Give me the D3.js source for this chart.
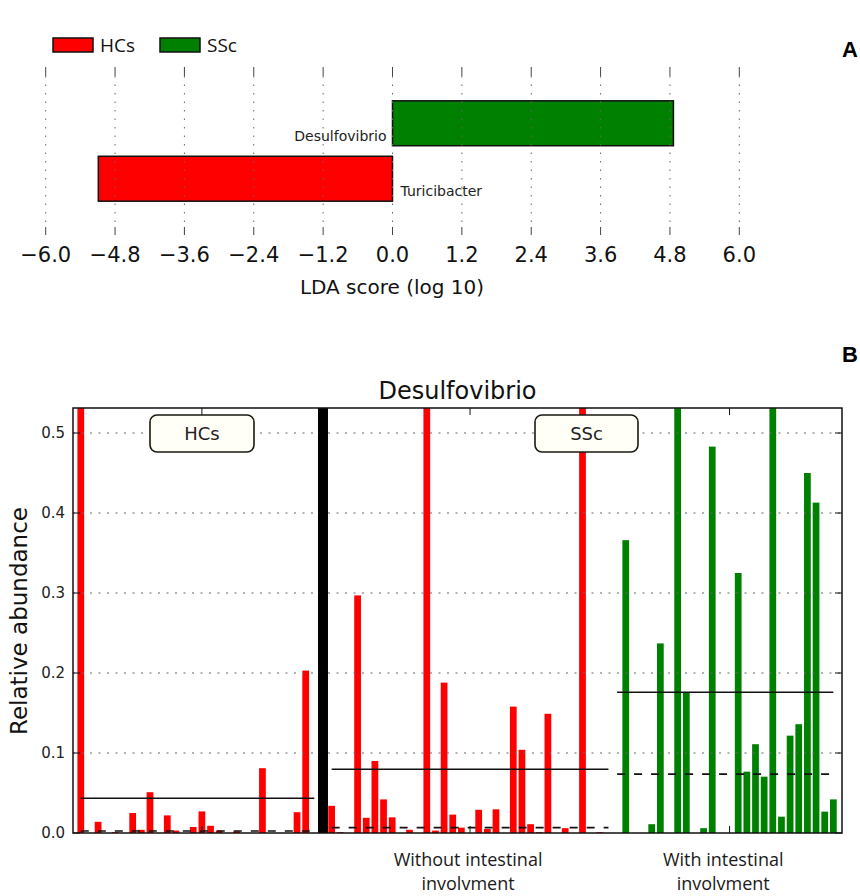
<!DOCTYPE html>
<head>
<meta charset="utf-8">
<title>LDA score and relative abundance</title>
<script src="https://d3js.org/d3.v7.min.js"></script>
<style>
  body { margin: 0; background: #fff; }
</style>
</head>
<body>
<div id="chart"></div>
<script>
    // ---- panel A data
    var ldaTaxa = ["Desulfovibrio", "Turicibacter"];
    var ldaScores = [4.86, -5.09];
    var ldaGroup = ["SSc", "HCs"];
    var ldaTicks = [-6.0, -4.8, -3.6, -2.4, -1.2, 0.0, 1.2, 2.4, 3.6, 4.8, 6.0];
    var groupNames = ["HCs", "SSc"];
    var groupColors = ["#ff0000", "#008000"];

    // ---- panel B data (relative abundance per sample)
    var hcsAbund = [0.734, 0, 0.014, 0, 0.001, 0, 0.025, 0.004, 0.051, 0, 0.022, 0.003, 0, 0.0075,
                    0.027, 0.009, 0.003, 0, 0.002, 0, 0, 0.081, 0, 0, 0, 0.026, 0.203, 0];
    var withoutAbund = [0.034, 0.001, 0, 0.297, 0.019, 0.090, 0.042, 0.0196, 0, 0.004, 0, 0.78, 0.003,
                        0.188, 0.023, 0.0067, 0, 0.029, 0.005, 0.0296, 0, 0.158, 0.104, 0.011, 0.001,
                        0.149, 0, 0.006, 0, 0.626, 0, 0.001, 0];
    var withAbund = [0, 0.366, 0, 0, 0.011, 0.237, 0, 0.80, 0.175, 0, 0.006, 0.483, 0, 0, 0.325, 0.0767,
                     0.111, 0.0704, 0.705, 0.0204, 0.1217, 0.136, 0.450, 0.413, 0.0267, 0.042];
    var abundTicks = [0.0, 0.1, 0.2, 0.3, 0.4, 0.5];
    var subgroupLabels = [["Without intestinal", "involvment"], ["With intestinal", "involvment"]];

    var svg = d3.select("#chart").append("svg")
        .attr("width", 860)
        .attr("height", 896)
        .style("font-family", "DejaVu Sans, sans-serif");

    // ================= Panel A =================
    var xA = d3.scaleLinear().domain([-6, 6]).range([45.7, 739.3]);
    var yA = d3.scaleBand().domain(ldaTaxa).range([67, 235]).paddingInner(0.19).paddingOuter(0.61);
    var colorA = d3.scaleOrdinal().domain(groupNames).range(groupColors);

    var gA = svg.append("g");

    gA.selectAll("rect.lda")
      .data(ldaTaxa)
      .enter().append("rect")
        .attr("class", "lda")
        .attr("x", function(d, i) { return xA(Math.min(0, ldaScores[i])); })
        .attr("y", function(d) { return yA(d); })
        .attr("width", function(d, i) { return Math.abs(xA(ldaScores[i]) - xA(0)); })
        .attr("height", yA.bandwidth())
        .attr("fill", function(d, i) { return colorA(ldaGroup[i]); })
        .attr("stroke", "#111")
        .attr("stroke-width", 1.5);

    // dotted vertical grid, with solid tick marks top and bottom
    gA.selectAll("line.grid")
      .data(ldaTicks)
      .enter().append("line")
        .attr("x1", function(d) { return xA(d); })
        .attr("x2", function(d) { return xA(d); })
        .attr("y1", 76).attr("y2", 227)
        .attr("stroke", "#666")
        .attr("stroke-width", 1)
        .attr("stroke-dasharray", "1.5,7");
    [[67, 76], [227, 235]].forEach(function(seg) {
      gA.selectAll(null)
        .data(ldaTicks)
        .enter().append("line")
          .attr("x1", function(d) { return xA(d); })
          .attr("x2", function(d) { return xA(d); })
          .attr("y1", seg[0]).attr("y2", seg[1])
          .attr("stroke", "#444")
          .attr("stroke-width", 1);
    });

    gA.selectAll("text.tick")
      .data(ldaTicks)
      .enter().append("text")
        .attr("x", function(d) { return xA(d); })
        .attr("y", 262)
        .attr("text-anchor", "middle")
        .attr("font-size", 21)
        .attr("fill", "#111")
        .text(function(d) { return d3.format(".1f")(d).replace("-", "\u2212"); });

    gA.append("text")
      .attr("x", 392)
      .attr("y", 294)
      .attr("text-anchor", "middle")
      .attr("font-size", 20)
      .attr("fill", "#111")
      .text("LDA score (log 10)");

    // taxon labels next to the zero line
    gA.selectAll("text.taxon")
      .data(ldaTaxa)
      .enter().append("text")
        .attr("x", function(d, i) { return ldaScores[i] > 0 ? xA(0) - 6 : xA(0) + 8; })
        .attr("y", function(d) { return yA(d) + yA.bandwidth() - 5; })
        .attr("text-anchor", function(d, i) { return ldaScores[i] > 0 ? "end" : "start"; })
        .attr("font-size", 14)
        .attr("fill", "#222")
        .text(function(d) { return d; });

    // legend
    var legend = gA.selectAll("g.legend")
      .data(groupNames)
      .enter().append("g")
        .attr("transform", function(d, i) { return "translate(" + (53 + i * 107) + ",38)"; });
    legend.append("rect")
      .attr("width", 40).attr("height", 14)
      .attr("fill", function(d) { return colorA(d); })
      .attr("stroke", "#111").attr("stroke-width", 1.5);
    legend.append("text")
      .attr("x", 47).attr("y", 14)
      .attr("font-family", "Open Sans, sans-serif")
      .attr("font-size", 19)
      .attr("fill", "#111")
      .text(function(d) { return d; });

    svg.append("text").attr("x", 858).attr("y", 57).attr("text-anchor", "end")
      .attr("font-family", "Liberation Sans, Arial, sans-serif")
      .attr("font-weight", "bold").attr("font-size", 22).text("A");
    svg.append("text").attr("x", 858).attr("y", 362).attr("text-anchor", "end")
      .attr("font-family", "Liberation Sans, Arial, sans-serif")
      .attr("font-weight", "bold").attr("font-size", 22).text("B");

    // ================= Panel B =================
    // every sample gets a slot; one slot between HCs and SSc holds the divider
    var samples = [];
    hcsAbund.forEach(function(v) { samples.push({ v: v, grp: "HCs" }); });
    var dividerIndex = samples.length;
    samples.push(null);
    var withoutStart = samples.length;
    withoutAbund.forEach(function(v) { samples.push({ v: v, grp: "HCs" }); });
    var withStart = samples.length;
    withAbund.forEach(function(v) { samples.push({ v: v, grp: "SSc" }); });
    var bars = samples.map(function(s, i) { return s ? { i: i, v: s.v, grp: s.grp } : null; })
                      .filter(function(s) { return s; });

    var frameL = 73, frameR = 842, frameT = 408, frameB = 833;
    var xB = d3.scaleLinear().domain([-0.9, samples.length]).range([frameL, frameR]);
    var yB = d3.scaleLinear().domain([0, 0.53125]).range([frameB, frameT]);

    var gB = svg.append("g");
    gB.append("clipPath").attr("id", "frameClip")
      .append("rect").attr("x", frameL).attr("y", frameT).attr("width", frameR - frameL).attr("height", frameB - frameT);

    gB.append("g")
      .attr("clip-path", "url(#frameClip)")
      .selectAll("rect")
      .data(bars)
      .enter().append("rect")
        .attr("x", function(d) { return xB(d.i - 0.39); })
        .attr("width", function(d) { return xB(d.i + 0.39) - xB(d.i - 0.39); })
        .attr("y", function(d) { return yB(d.v); })
        .attr("height", function(d) { return yB(0) - yB(d.v); })
        .attr("fill", function(d) { return colorA(d.grp); });

    // horizontal dotted grid
    gB.selectAll("line.hgrid")
      .data(abundTicks.slice(1))
      .enter().append("line")
        .attr("x1", frameL).attr("x2", frameR)
        .attr("y1", function(d) { return yB(d); })
        .attr("y2", function(d) { return yB(d); })
        .attr("stroke", "#666")
        .attr("stroke-width", 1)
        .attr("stroke-dasharray", "2,6.5");

    // y ticks inward on both sides
    gB.selectAll("line.ytickL")
      .data(abundTicks)
      .enter().append("line")
        .attr("x1", frameL).attr("x2", frameL + 7)
        .attr("y1", function(d) { return yB(d); }).attr("y2", function(d) { return yB(d); })
        .attr("stroke", "#111");
    gB.selectAll("line.ytickR")
      .data(abundTicks)
      .enter().append("line")
        .attr("x1", frameR - 7).attr("x2", frameR)
        .attr("y1", function(d) { return yB(d); }).attr("y2", function(d) { return yB(d); })
        .attr("stroke", "#111");
    gB.selectAll("text.ytick")
      .data(abundTicks)
      .enter().append("text")
        .attr("x", 65)
        .attr("y", function(d) { return yB(d); })
        .attr("dy", "0.36em")
        .attr("text-anchor", "end")
        .attr("font-size", 15)
        .attr("fill", "#222")
        .text(function(d) { return d3.format(".1f")(d); });

    // mean (solid) and median (dashed) per subgroup
    var subgroups = [
      { vals: hcsAbund, start: 0 },
      { vals: withoutAbund, start: withoutStart },
      { vals: withAbund, start: withStart }
    ];
    subgroups.forEach(function(g) {
      var x1 = xB(g.start), x2 = xB(g.start + g.vals.length - 1);
      gB.append("line")
        .attr("x1", x1).attr("x2", x2)
        .attr("y1", yB(d3.mean(g.vals))).attr("y2", yB(d3.mean(g.vals)))
        .attr("stroke", "#111").attr("stroke-width", 1.5);
      gB.append("line")
        .attr("x1", x1).attr("x2", x2)
        .attr("y1", yB(d3.median(g.vals))).attr("y2", yB(d3.median(g.vals)))
        .attr("stroke", "#111").attr("stroke-width", 1.6)
        .attr("stroke-dasharray", "8,9");
      // small tick at the middle of each subgroup, top and bottom
      var xm = xB(g.start + Math.floor(g.vals.length / 2));
      gB.append("line").attr("x1", xm).attr("x2", xm).attr("y1", frameT).attr("y2", frameT + 7).attr("stroke", "#111");
      gB.append("line").attr("x1", xm).attr("x2", xm).attr("y1", frameB - 7).attr("y2", frameB).attr("stroke", "#111");
    });

    // thick divider between HCs and SSc
    gB.append("line")
      .attr("x1", xB(dividerIndex)).attr("x2", xB(dividerIndex))
      .attr("y1", frameT).attr("y2", frameB)
      .attr("stroke", "#000").attr("stroke-width", 10);

    // frame
    gB.append("rect")
      .attr("x", frameL).attr("y", frameT).attr("width", frameR - frameL).attr("height", frameB - frameT)
      .attr("fill", "none").attr("stroke", "#111").attr("stroke-width", 1.5);

    // class boxes
    var boxes = [{ name: "HCs", x: 150, w: 104 }, { name: "SSc", x: 535, w: 103 }];
    boxes.forEach(function(b) {
      gB.append("rect")
        .attr("x", b.x).attr("y", 415).attr("width", b.w).attr("height", 37)
        .attr("rx", 7).attr("ry", 7)
        .attr("fill", "#fffff8").attr("stroke", "#1a1a10").attr("stroke-width", 1.6);
      gB.append("text")
        .attr("x", b.x + b.w / 2).attr("y", 440)
        .attr("text-anchor", "middle")
        .attr("font-size", 18).attr("fill", "#222")
        .text(b.name);
    });

    gB.append("text")
      .attr("x", (frameL + frameR) / 2).attr("y", 399)
      .attr("text-anchor", "middle")
      .attr("font-size", 24).attr("fill", "#111")
      .text("Desulfovibrio");

    gB.append("text")
      .attr("transform", "translate(26.5,621) rotate(-90)")
      .attr("text-anchor", "middle")
      .attr("font-size", 23).attr("fill", "#111")
      .text("Relative abundance");

    // subgroup labels under the axis
    [[withoutStart, withoutAbund.length], [withStart, withAbund.length]].forEach(function(s, k) {
      var cx = (xB(s[0]) + xB(s[0] + s[1] - 1)) / 2;
      subgroupLabels[k].forEach(function(line, j) {
        gB.append("text")
          .attr("x", cx - 2).attr("y", 866 + j * 24)
          .attr("text-anchor", "middle")
          .attr("font-family", "Open Sans, sans-serif")
          .attr("font-size", 18).attr("fill", "#1a1a1a")
          .text(line);
      });
    });
</script>
</body>
